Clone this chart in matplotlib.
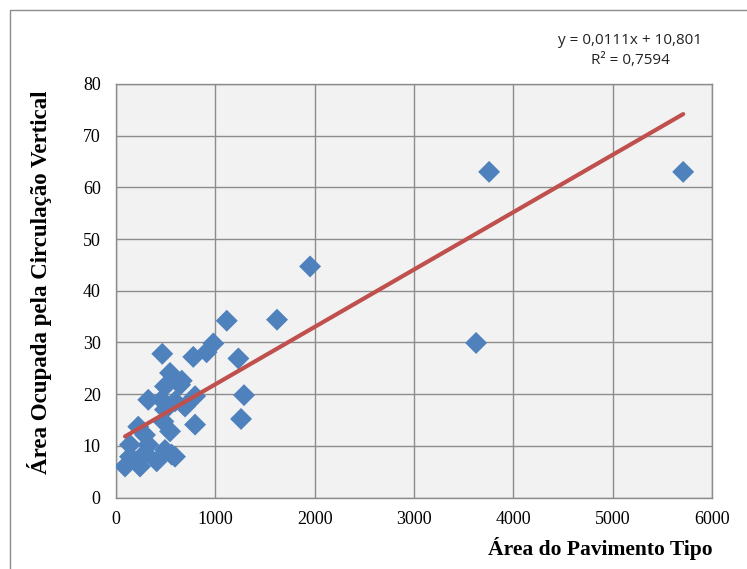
import numpy as np
import matplotlib
matplotlib.use("Agg")
import matplotlib.pyplot as plt
from matplotlib.patches import Rectangle

# Typical-floor area vs. area taken by vertical circulation
area_pavimento = [3756, 5710, 3625, 1954, 1621, 1115, 980, 912, 778, 1232, 466,
                  1289, 1259, 796, 796,
                  544, 662, 645, 493, 325, 460, 594, 695, 493, 477, 544, 224,
                  292, 141, 325, 292, 493, 594, 141, 91, 242, 410, 560]
area_circulacao = [63.0, 63.0, 29.9, 44.7, 34.4, 34.2, 29.8, 28.1, 27.2, 26.9, 27.8,
                   19.8, 15.2, 19.6, 14.1,
                   24.1, 22.6, 21.8, 21.5, 18.9, 18.9, 18.6, 17.6, 17.0, 14.7, 12.8, 13.7,
                   12.1, 10.2, 10.2, 8.6, 9.2, 7.9, 7.9, 6.0, 6.0, 7.0, 8.3]

slope = 0.0111
intercept = 10.801
r2_text = "0,7594"

x_ticks = [0, 1000, 2000, 3000, 4000, 5000, 6000]
y_ticks = [0, 10, 20, 30, 40, 50, 60, 70, 80]

W, H = 747, 569
fig = plt.figure(figsize=(W / 100, H / 100), dpi=100)
fig.patch.set_facecolor("white")

# chart frame
fig.patches.append(Rectangle((10 / W, -0.1), 1.2, 1 - 10 / H + 0.1,
                             transform=fig.transFigure, fill=False,
                             edgecolor="#8c8c8c", linewidth=1.0))

left, right = 116 / W, 712 / W
bottom, top = 1 - 497.5 / H, 1 - 84 / H
ax = fig.add_axes([left, bottom, right - left, top - bottom])
ax.set_facecolor("#f2f2f2")

ax.set_xlim(0, 6000)
ax.set_ylim(0, 80)
ax.set_xticks(x_ticks)
ax.set_yticks(y_ticks)
ax.grid(True, color="#8c8c8c", linewidth=1.0)
ax.set_axisbelow(True)
for s in ax.spines.values():
    s.set_color("#8c8c8c")
    s.set_linewidth(1.0)
ax.tick_params(axis="x", length=0, pad=10, labelsize=13)
ax.tick_params(axis="y", length=0, pad=11, labelsize=13)
for lab in ax.get_xticklabels() + ax.get_yticklabels():
    lab.set_fontfamily("Liberation Serif")

ax.scatter(area_pavimento, area_circulacao, marker="D", s=125,
           color="#4f81bd", edgecolors="none", zorder=3)

xs = np.array([min(area_pavimento), max(area_pavimento)])
ax.plot(xs, slope * xs + intercept, color="#c0504d", linewidth=3,
        zorder=4, solid_capstyle="round")

eq = "y = {}x + {}".format(f"{slope:.4f}".replace(".", ","),
                            f"{intercept:.3f}".replace(".", ","))
fig.text(630 / W, 1 - 41 / H, eq, ha="center", va="center",
         fontsize=11, family="Open Sans", color="#222222")
fig.text(630 / W, 1 - 60 / H, "R² = " + r2_text, ha="center", va="center",
         fontsize=11, family="Open Sans", color="#222222")

fig.text(713 / W, 1 - 548 / H, "Área do Pavimento Tipo", ha="right",
         va="center", fontsize=15.5, fontweight="bold", family="Liberation Serif")
fig.text(40 / W, 1 - 282 / H, "Área Ocupada pela Circulação Vertical",
         ha="center", va="center", rotation=90, fontsize=16.5,
         fontweight="bold", family="Liberation Serif")

fig.savefig("out.png", dpi=100)
